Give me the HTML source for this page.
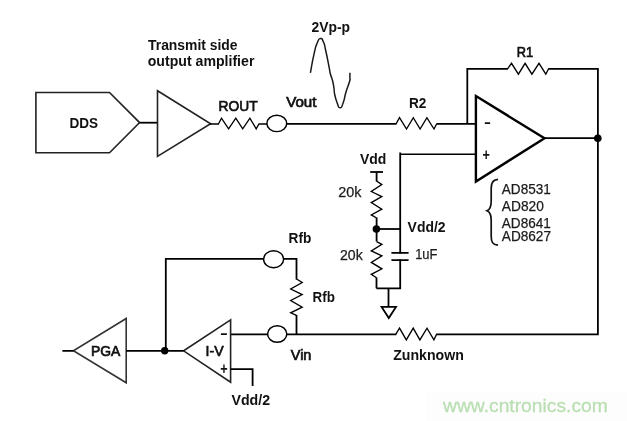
<!DOCTYPE html>
<html>
<head>
<meta charset="utf-8">
<style>
html,body{margin:0;padding:0;background:#fff;}
body{width:627px;height:421px;overflow:hidden;}
svg{display:block;will-change:transform;}
text{font-family:"Liberation Sans",Arial,sans-serif;fill:#111;}
.b{font-weight:bold;font-size:14.6px;}
.r{font-size:14.6px;fill:#1c1c1c;stroke:#1c1c1c;stroke-width:0.25px;}
.m{font-size:14.6px;fill:#111;stroke:#111;stroke-width:0.7px;}
.w{fill:none;stroke:#000;stroke-width:1.8;stroke-linejoin:miter;stroke-linecap:butt;}
.t{fill:none;stroke:#000;stroke-width:2.4;stroke-linejoin:miter;}
.z{fill:none;stroke:#000;stroke-width:1.35;stroke-linejoin:miter;stroke-linecap:butt;}
.g{fill:none;stroke:#222;stroke-width:1.6;stroke-linejoin:miter;}
</style>
</head>
<body>
<svg width="627" height="421" viewBox="0 0 627 421">
<rect width="627" height="421" fill="#fff"/>
<rect x="427" y="391" width="200" height="30" fill="#fdfdfd"/>

<!-- DDS block -->
<path class="g" d="M35.9 92.5 H109.5 L139.6 122.6 L109.5 152.7 H35.9 Z"/>
<path class="w" d="M139.6 122.7 H157.5"/>
<!-- transmit amplifier -->
<path class="g" d="M157.5 90.7 L210.6 123.7 L157.5 156.4 Z"/>
<!-- ROUT -->
<path class="z" style="stroke-width:1.5" d="M210 124 H219 M258.6 124 H267.2"/>
<path class="z" d="M218.4 124 L221.5 118.2 L228.6 128.8 L235.8 118.2 L242.7 128.8 L249.9 118.2 L256.2 128.8 L258.9 124"/>
<ellipse class="z" style="stroke-width:1.45" cx="276.8" cy="123.4" rx="9.9" ry="8.2"/>
<!-- Vout to R2 to opamp -->
<path class="w" d="M286.6 123.8 H396.4 M436.4 123.8 H475"/>
<path class="z" d="M396 124 L399.5 117.7 L406.5 129 L413.3 117.7 L420.1 129 L426.9 117.7 L434 129 L436.6 124"/>
<!-- feedback R1, output rail, Zunknown -->
<path class="w" d="M467.3 124 V68.8 H508 M548.2 68.8 H597.9 V334.3 H436.2 M396.4 334.3 H286.7"/>
<path class="z" d="M507.5 68.8 L511.5 63.3 L518.4 74.2 L525.1 63.3 L531.9 74.2 L539 63.3 L545.8 74.2 L548.6 68.8"/>
<path class="z" d="M436.6 334.2 L433.9 339.9 L427 328.2 L419.9 339.9 L413.2 328.2 L406.3 339.9 L399.5 328.2 L395.9 334.2"/>
<!-- op amp -->
<path class="t" d="M475.9 96.1 L544.5 138.2 L475.9 181.5 Z"/>
<path class="w" d="M544 138.2 H597.9"/>
<circle cx="597.8" cy="138.3" r="3.8" fill="#000"/>
<!-- + input -->
<path class="w" style="stroke-width:1.6" d="M475 154.3 H400.2"/>
<path class="w" d="M400.2 152.6 V288.3 H376.4"/>
<!-- Vdd divider -->
<path class="w" d="M370.2 172 H383"/>
<path class="w" d="M376.6 172 V181.6 M376.6 217.6 V241.6 M376.5 277.4 V288.3"/>
<path class="z" d="M376.6 181 L381.8 184.6 L371.3 191.5 L381.8 196.6 L371.3 202.6 L381.8 209.1 L371.3 214.9 L376.6 218"/>
<path class="z" d="M376.6 241.6 L381.9 244.4 L371.3 250.9 L381.9 255.9 L371.3 262.4 L381.9 268.8 L371.3 274.4 L376.5 277.7"/>
<circle cx="376.4" cy="229" r="3.8" fill="#000"/>
<path class="w" d="M376.4 229 H400.2"/>
<!-- capacitor -->
<rect x="398.5" y="253.6" width="3.4" height="5.8" fill="#fff"/>
<path class="w" style="stroke-width:1.8" d="M391.4 252.8 H408.6 M391.4 260.2 H408.6"/>
<!-- ground -->
<path class="w" d="M388.5 288.3 V307"/>
<path class="w" d="M381.6 306.9 H396 L388.8 318 Z"/>
<!-- brace -->
<path class="w" style="stroke-width:1.7;stroke:#111" d="M498 179.4 C492.4 180 491.2 183 491.2 189 V201 C491.2 206.5 490 209.6 487 210.8 C490 212 491.2 215 491.2 220.5 V236 C491.2 242 492.4 244.6 498 245.2"/>

<!-- Rfb -->
<path class="w" d="M165.8 350.7 V258.9 H263.6"/>
<ellipse class="z" style="stroke-width:1.45" cx="273.6" cy="259.2" rx="10" ry="8.5"/>
<path class="w" d="M283.6 258.9 H296.5 V279.4 M296.5 315 V334.3"/>
<path class="z" d="M296.5 279 L302.2 282.5 L290.7 289 L302.2 294.6 L290.7 300.5 L302.2 307.2 L290.7 312.8 L296.5 315.4"/>
<!-- Vin -->
<ellipse class="z" style="stroke-width:1.45" cx="277.2" cy="334" rx="9.6" ry="8.3"/>
<path class="w" d="M230.6 334.3 H267.7"/>
<!-- I-V -->
<path class="g" d="M230.6 319.8 L183.6 350.8 L230.6 382.2 Z"/>
<path class="w" d="M230.6 369.1 H252.6 V385.9"/>
<!-- PGA -->
<path class="g" style="stroke:#333" d="M126.2 318.5 L73.4 350.8 L126.2 382.8 Z"/>
<path class="w" d="M62.4 350.8 H73.6 M126.2 350.8 H183.6"/>
<circle cx="164.7" cy="350.7" r="3.7" fill="#000"/>

<!-- sine -->
<path class="w" style="stroke-width:1.5;stroke:#1a1a1a" d="M310.4 72.8 C311.6 66.7 311.6 64.5 313.9 54.6 C316.2 44.7 315.0 48.3 317.2 43.0 C319.4 37.7 318.5 38.9 320.6 38.6 C322.7 38.3 321.7 38.2 323.4 42.0 C325.1 45.8 323.7 41.6 325.6 50.0 C327.5 58.4 327.6 59.3 329.1 67.1 C330.6 74.9 329.1 68.8 330.2 73.3 C331.3 77.8 331.2 75.4 332.5 80.5 C333.8 85.6 333.3 84.1 334.0 88.5 C334.7 92.9 333.6 89.1 334.6 93.8 C335.6 98.5 335.3 98.0 337.1 102.7 C338.9 107.4 338.1 107.8 340.1 107.8 C342.1 107.8 341.2 108.0 343.2 102.7 C345.2 97.4 343.9 98.9 346.0 92.0 C348.1 85.1 348.1 86.3 349.4 82.0 C350.7 77.7 349.7 80.0 349.9 79.0 L349.9 72.8"/>

<!-- labels -->
<text class="b" x="148" y="49.7" textLength="89.6" lengthAdjust="spacingAndGlyphs">Transmit side</text>
<text class="b" x="147.7" y="66" textLength="106.7" lengthAdjust="spacingAndGlyphs">output amplifier</text>
<text class="b" x="311.5" y="31.5" textLength="38.6" lengthAdjust="spacingAndGlyphs">2Vp-p</text>
<text class="b" x="69.4" y="128.3" textLength="28.6" lengthAdjust="spacingAndGlyphs">DDS</text>
<text class="m" x="218.6" y="111" textLength="39" lengthAdjust="spacingAndGlyphs">ROUT</text>
<text class="m" x="286.2" y="107.4" textLength="30.3" lengthAdjust="spacingAndGlyphs">Vout</text>
<text class="b" x="409" y="107.9" textLength="17.4" lengthAdjust="spacingAndGlyphs">R2</text>
<text class="m" x="516.8" y="56.6" textLength="16.4" lengthAdjust="spacingAndGlyphs">R1</text>
<text class="b" x="360" y="164" textLength="26.4" lengthAdjust="spacingAndGlyphs">Vdd</text>
<text class="b" x="407.6" y="231.7" textLength="38" lengthAdjust="spacingAndGlyphs">Vdd/2</text>
<text class="r" x="338.2" y="196.7" textLength="23.2" lengthAdjust="spacingAndGlyphs">20k</text>
<text class="r" x="340" y="259.6" textLength="22.7" lengthAdjust="spacingAndGlyphs">20k</text>
<text class="r" x="415.2" y="258.5" textLength="22.2" lengthAdjust="spacingAndGlyphs">1uF</text>
<text class="r" x="501.8" y="194.4" textLength="49" lengthAdjust="spacingAndGlyphs">AD8531</text>
<text class="r" x="501.8" y="210.7" textLength="42" lengthAdjust="spacingAndGlyphs">AD820</text>
<text class="r" x="501.8" y="228.2" textLength="49" lengthAdjust="spacingAndGlyphs">AD8641</text>
<text class="r" x="501.8" y="241.4" textLength="49.2" lengthAdjust="spacingAndGlyphs">AD8627</text>
<text class="b" x="288.6" y="243.3" textLength="22.8" lengthAdjust="spacingAndGlyphs">Rfb</text>
<text class="b" x="312.5" y="302.2" textLength="22.4" lengthAdjust="spacingAndGlyphs">Rfb</text>
<text class="m" x="290.8" y="359.9" textLength="20.6" lengthAdjust="spacingAndGlyphs">Vin</text>
<text class="b" x="393.2" y="359.7" textLength="70.6" lengthAdjust="spacingAndGlyphs">Zunknown</text>
<text class="b" x="231.5" y="405" textLength="38.6" lengthAdjust="spacingAndGlyphs">Vdd/2</text>
<text class="m" x="91" y="355.7" textLength="29.3" lengthAdjust="spacingAndGlyphs">PGA</text>
<text class="m" x="205.6" y="355.5" textLength="18.1" lengthAdjust="spacingAndGlyphs">I-V</text>
<!-- polarity signs -->
<text class="b" x="483.9" y="126.5" style="font-size:14px" textLength="7" lengthAdjust="spacingAndGlyphs">-</text>
<text class="b" x="482.4" y="160" style="font-size:16.5px" textLength="7.4" lengthAdjust="spacingAndGlyphs">+</text>
<text class="b" x="220" y="337.9" style="font-size:14px" textLength="7.8" lengthAdjust="spacingAndGlyphs">-</text>
<text class="b" x="220.2" y="374.3" style="font-size:16.5px" textLength="7.4" lengthAdjust="spacingAndGlyphs">+</text>
<text x="443" y="412" style="font-size:19px;fill:#b9dfb2;stroke:#b9dfb2;stroke-width:0.3px" textLength="164.8" lengthAdjust="spacingAndGlyphs">www.cntronics.com</text>
</svg>
</body>
</html>
